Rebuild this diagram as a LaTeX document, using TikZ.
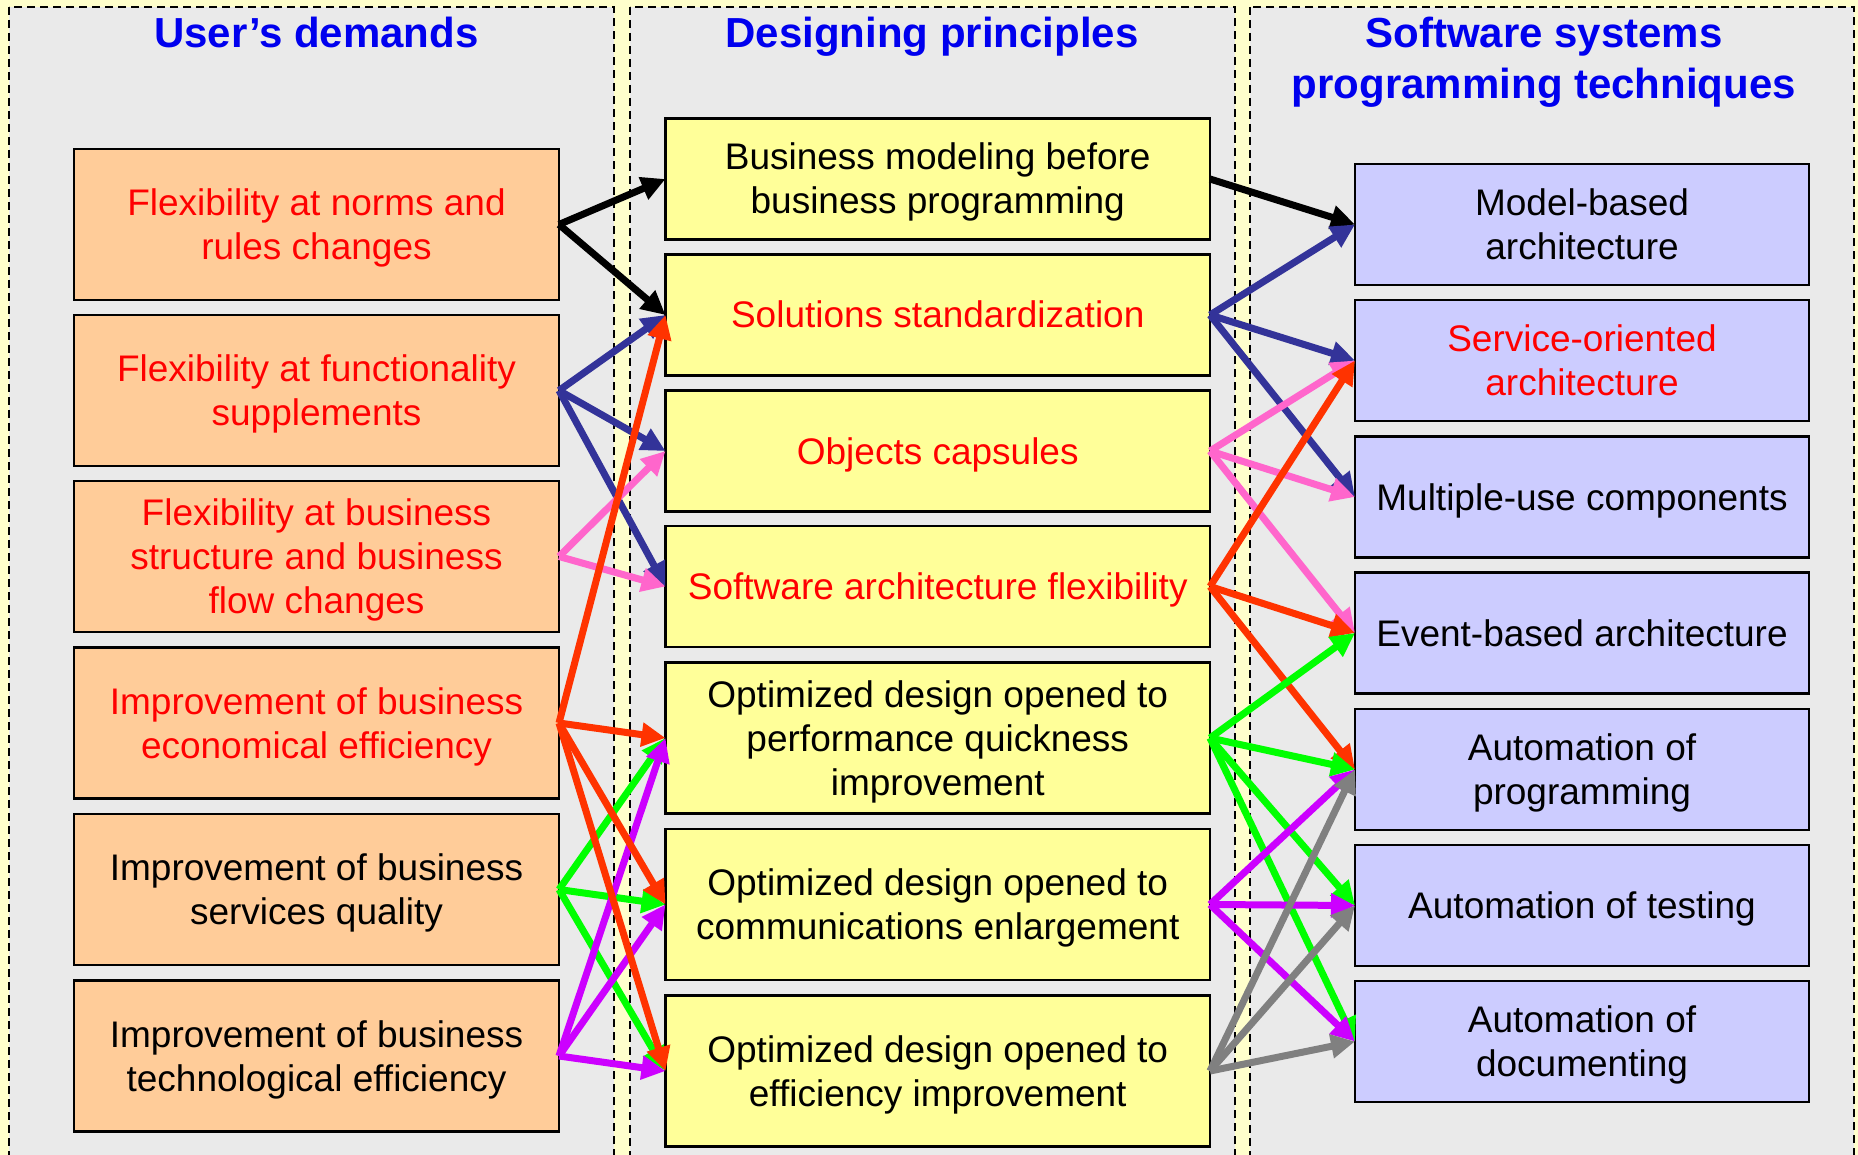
\documentclass[tikz,border=0pt]{standalone}
\usepackage{fontspec}
\setmainfont{Liberation Sans}
\usetikzlibrary{arrows.meta}
\definecolor{bgyellow}{HTML}{FFFFCC}
\definecolor{panelgray}{HTML}{EAEAEA}
\definecolor{ofill}{HTML}{FFCC99}
\definecolor{yfill}{HTML}{FFFF99}
\definecolor{bfill}{HTML}{CCCCFF}
\definecolor{titleblue}{HTML}{0000EE}
\definecolor{txtred}{HTML}{FF0000}
\definecolor{cnavy}{HTML}{333399}
\definecolor{cpink}{HTML}{FF66CC}
\definecolor{cred}{HTML}{FF3300}
\definecolor{cgreen}{HTML}{00FF00}
\definecolor{cpurple}{HTML}{CC00FF}
\definecolor{cgray}{HTML}{808080}
\newcommand\topst{\rule{0pt}{36pt}}
\newcommand\botst{\rule[-10pt]{0pt}{0pt}}
\tikzset{
  panel/.style={fill=panelgray, draw=black, line width=2pt, dash pattern=on 8pt off 5pt},
  boxbase/.style={draw=black, line width=2.5pt, inner sep=0pt, outer sep=0pt, align=center,
    font=\fontsize{37}{44}\selectfont},
  obox/.style={boxbase, fill=ofill, minimum width=485pt, minimum height=151pt},
  ybox/.style={boxbase, fill=yfill, minimum width=544.5pt, minimum height=121pt},
  ybig/.style={ybox, minimum height=151pt},
  bbox/.style={boxbase, fill=bfill, minimum width=454pt, minimum height=121pt},
  redtxt/.style={text=txtred},
  title/.style={anchor=base, text=titleblue, font=\fontsize{42}{51}\selectfont\bfseries},
  arr/.style={line width=7pt, -{Triangle[length=24pt, width=23pt]}},
}
\begin{document}
\begin{tikzpicture}[x=1pt, y=-1pt]
\useasboundingbox (0,0) rectangle (1858,1155);
\fill[bgyellow] (0,0) rectangle (1858,1155);
\clip (0,0) rectangle (1858,1155);
% panels
\path[panel] (9,7) rectangle (614,1170);
\path[panel] (630,7) rectangle (1235,1170);
\path[panel] (1250,7) rectangle (1854,1170);
% titles
\node[title] (t1) at (316.5,47.5) {User’s demands};
\node[title] (t2) at (932,47.5) {Designing principles};
\node[title] (t3a) at (1544,47.5) {Software systems};
\node[title] (t3b) at (1544,98.5) {programming techniques};
% user's demands
\node[obox, redtxt] (o1) at (316.5,224.5) {\topst Flexibility at norms and\\rules changes\botst};
\node[obox, redtxt] (o2) at (316.5,390.5) {\topst Flexibility at functionality\\supplements\botst};
\node[obox, redtxt] (o3) at (316.5,556.5) {\topst Flexibility at business\\structure and business\\flow changes\botst};
\node[obox, redtxt] (o4) at (316.5,723) {\topst Improvement of business\\economical efficiency\botst};
\node[obox] (o5) at (316.5,889.5) {\topst Improvement of business\\services quality\botst};
\node[obox] (o6) at (316.5,1056) {\topst Improvement of business\\technological efficiency\botst};
% designing principles
\node[ybox] (y1) at (937.75,179) {\topst Business modeling before\\business programming\botst};
\node[ybox, redtxt] (y2) at (937.75,315) {\topst Solutions standardization\botst};
\node[ybox, redtxt] (y3) at (937.75,451) {\topst Objects capsules\botst};
\node[ybox, redtxt] (y4) at (937.75,586.5) {\topst Software architecture flexibility\botst};
\node[ybig] (y5) at (937.75,738) {\topst Optimized design opened to\\performance quickness\\improvement\botst};
\node[ybig] (y6) at (937.75,904.5) {\topst Optimized design opened to\\communications enlargement\botst};
\node[ybig] (y7) at (937.75,1071) {\topst Optimized design opened to\\efficiency improvement\botst};
% techniques
\node[bbox] (b1) at (1582,224.5) {\topst Model-based\\architecture\botst};
\node[bbox, redtxt] (b2) at (1582,360.5) {\topst Service-oriented\\architecture\botst};
\node[bbox] (b3) at (1582,497) {\topst Multiple-use components\botst};
\node[bbox] (b4) at (1582,633) {\topst Event-based architecture\botst};
\node[bbox] (b5) at (1582,769.5) {\topst Automation of\\programming\botst};
\node[bbox] (b6) at (1582,905.5) {\topst Automation of testing\botst};
\node[bbox] (b7) at (1582,1041.5) {\topst Automation of\\documenting\botst};
% arrows: demands -> principles
\draw[arr, black] (o1.east) -- (y1.west);
\draw[arr, black] (o1.east) -- (y2.west);
\draw[arr, cnavy] (o2.east) -- (y2.west);
\draw[arr, cnavy] (o2.east) -- (y3.west);
\draw[arr, cnavy] (o2.east) -- (y4.west);
\draw[arr, cpink] (o3.east) -- (y3.west);
\draw[arr, cpink] (o3.east) -- (y4.west);
\draw[arr, cgreen] (o5.east) -- (y5.west);
\draw[arr, cgreen] (o5.east) -- (y6.west);
\draw[arr, cgreen] (o5.east) -- (y7.west);
\draw[arr, cpurple] (o6.east) -- (y5.west);
\draw[arr, cpurple] (o6.east) -- (y6.west);
\draw[arr, cpurple] (o6.east) -- (y7.west);
\draw[arr, cred] (o4.east) -- (y2.west);
\draw[arr, cred] (o4.east) -- (y5.west);
\draw[arr, cred] (o4.east) -- (y6.west);
\draw[arr, cred] (o4.east) -- (y7.west);
% arrows: principles -> techniques
\draw[arr, black] (y1.east) -- (b1.west);
\draw[arr, cnavy] (y2.east) -- (b1.west);
\draw[arr, cnavy] (y2.east) -- (b2.west);
\draw[arr, cnavy] (y2.east) -- (b3.west);
\draw[arr, cpink] (y3.east) -- (b2.west);
\draw[arr, cpink] (y3.east) -- (b3.west);
\draw[arr, cpink] (y3.east) -- (b4.west);
\draw[arr, cred] (y4.east) -- (b2.west);
\draw[arr, cred] (y4.east) -- (b4.west);
\draw[arr, cred] (y4.east) -- (b5.west);
\draw[arr, cgreen] (y5.east) -- (b4.west);
\draw[arr, cgreen] (y5.east) -- (b5.west);
\draw[arr, cgreen] (y5.east) -- (b6.west);
\draw[arr, cgreen] (y5.east) -- (b7.west);
\draw[arr, cpurple] (y6.east) -- (b5.west);
\draw[arr, cpurple] (y6.east) -- (b6.west);
\draw[arr, cpurple] (y6.east) -- (b7.west);
\draw[arr, cgray] (y7.east) -- (b5.west);
\draw[arr, cgray] (y7.east) -- (b6.west);
\draw[arr, cgray] (y7.east) -- (b7.west);
\end{tikzpicture}
\end{document}
